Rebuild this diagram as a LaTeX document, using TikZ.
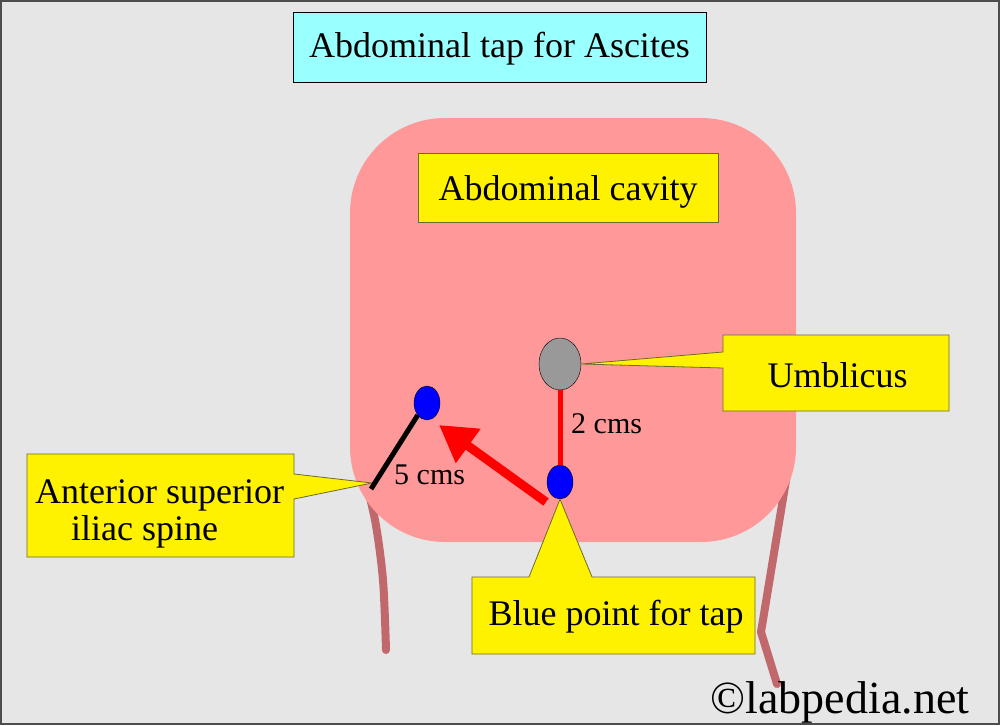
\documentclass[tikz,border=0pt]{standalone}
\usepackage{fontspec}
\setmainfont{Liberation Serif}
\usetikzlibrary{shapes.geometric,arrows.meta}

\definecolor{bggray}{HTML}{E6E6E6}
\definecolor{framegray}{HTML}{4D4D4D}
\definecolor{cavitypink}{HTML}{FF9999}
\definecolor{titlecyan}{HTML}{99FFFF}
\definecolor{legbrown}{HTML}{C0686C}
\definecolor{umbgray}{HTML}{999999}
\definecolor{boxline}{HTML}{6B6B2A}

\begin{document}
\begin{tikzpicture}[
        x=1pt, y=-1pt,
        titlebox/.style={rectangle, draw=black, fill=titlecyan, inner sep=0pt, font=\fontsize{36}{38}\selectfont},
        labelbox/.style={rectangle, draw=boxline, fill=yellow, inner sep=0pt, font=\fontsize{36}{38}\selectfont},
        callout/.style={draw=boxline, fill=yellow, line width=0.8pt},
        calloutText/.style={inner sep=0pt, font=\fontsize{36}{37}\selectfont},
        spot/.style={ellipse, draw=black, fill=blue, minimum width=26pt, minimum height=34pt, inner sep=0pt},
        leg/.style={draw=legbrown, line width=8pt, line cap=round, line join=round},
        measure/.style={font=\fontsize{30}{32}\selectfont, inner sep=0pt, anchor=base west}
    ]
        \useasboundingbox (0,0) rectangle (1000,725);
        % Background and frame
        \fill[bggray] (0,0) rectangle (1000,725);
        \draw[framegray, line width=2pt] (1,1) rectangle (999,724);

        % Title
        \node[titlebox, minimum width=413pt, minimum height=70pt, text height=26pt, text depth=4pt] (title) at (499.5,47) {Abdominal tap for Ascites};

        % Legs under the abdomen
        \draw[leg] plot[smooth] coordinates {(361,462) (375,520) (383,580) (386,650)};
        \draw[leg] (789,462) -- (761,632) -- (777,684);

        % Abdomen
        \fill[cavitypink, rounded corners=95pt] (350,118) rectangle (796,542);
        \node[labelbox, minimum width=300pt, minimum height=69pt, text height=28pt, text depth=3pt] (cavity) at (568,187.5) {Abdominal cavity};

        % Umbilicus and the two points
        \node[ellipse, draw=black, fill=umbgray, minimum width=42pt, minimum height=52pt, inner sep=0pt] (umb) at (560,364) {};
        \node[spot] (asis) at (427,403) {};
        \node[spot] (tap) at (560,482) {};
        \coordinate (spine) at (371,489);

        % Callouts
        \draw[callout] (723,335) -- (949,335) -- (949,411) -- (723,411) -- (723,368) -- (umb.east) -- (723,352) -- cycle;
        \node[calloutText, anchor=base] (umblabel) at (837.5,387) {Umblicus};

        \draw[callout] (27,454) -- (294,454) -- (294,474) -- (372,483) -- (294,499) -- (294,557) -- (27,557) -- cycle;
        \node[calloutText, anchor=base west] (asislabel) at (35,503) {\begin{tabular}[t]{@{}l@{}}Anterior superior\\\hspace*{1em}iliac spine\end{tabular}};

        \draw[callout] (472,577) -- (529,577) -- (tap.south) -- (592,577) -- (755,577) -- (755,654) -- (472,654) -- cycle;
        \node[calloutText, anchor=base] (taplabel) at (616,625) {Blue point for tap};

        % Distances
        \draw[red, line width=5pt] (umb) -- (tap);
        \node[measure] (twocm) at (571,433) {2 cms};
        \draw[black, line width=5pt] (asis.south west) -- (spine);
        \node[measure] (fivecm) at (394,484) {5 cms};

        % Direction of the tap
        \coordinate (arrowtail) at (546,502);
        \coordinate (arrowtip) at (439,425);
        \draw[red, line width=9pt, -{Triangle[length=36pt,width=40pt]}] (arrowtail) -- (arrowtip);

        % Watermark
        \node[anchor=base, inner sep=0pt, font=\fontsize{46}{48}\selectfont] (credit) at (840,713) {©labpedia.net};
\end{tikzpicture}
\end{document}
